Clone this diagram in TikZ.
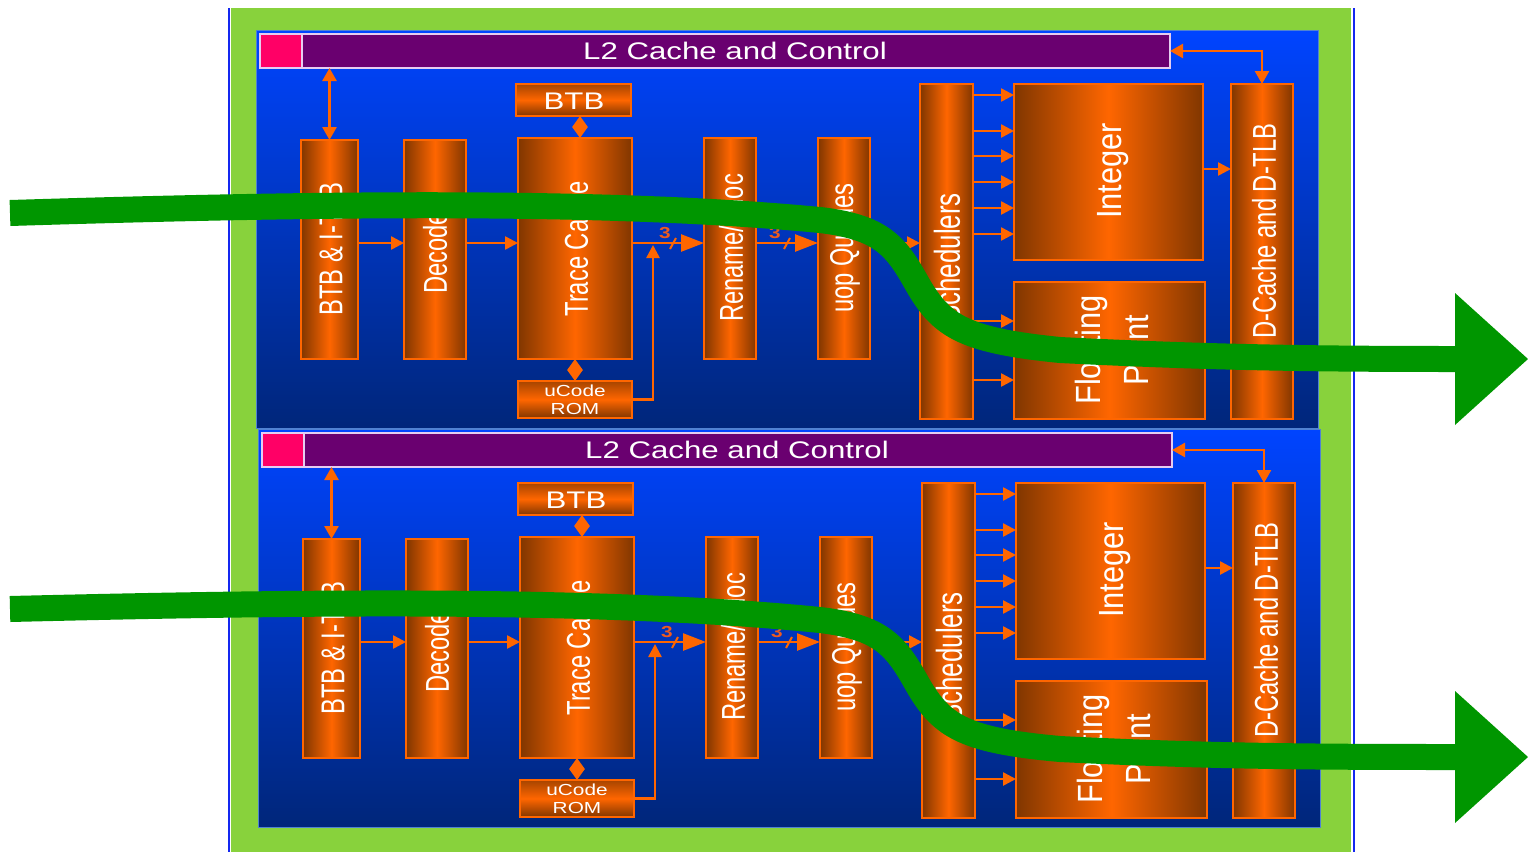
\documentclass[tikz,border=0pt]{standalone}
\usepackage{fontspec}
\setmainfont{Liberation Sans}
\newfontfamily\hf[FakeStretch=1.3]{Liberation Sans}
\newfontfamily\vf[FakeStretch=0.72]{Liberation Sans}
\newfontfamily\vbf[FakeStretch=0.88]{Liberation Sans}
\usetikzlibrary{arrows.meta}
\definecolor{bgg}{RGB}{136,210,60}
\definecolor{pblue}{RGB}{0,68,255}
\definecolor{dblue}{RGB}{0,38,122}
\definecolor{org}{RGB}{255,102,0}
\definecolor{brn}{RGB}{128,54,0}
\definecolor{purp}{RGB}{106,0,112}
\definecolor{pnk}{RGB}{255,0,102}
\definecolor{grn}{RGB}{0,150,0}
\definecolor{edgeblue}{RGB}{20,40,240}
\definecolor{lbord}{RGB}{80,130,210}
\definecolor{wbord}{RGB}{230,205,240}
\definecolor{numc}{RGB}{240,90,30}
\tikzset{
  panel/.style={draw=lbord, line width=1pt, top color=pblue, bottom color=dblue, inner sep=0pt, outer sep=0pt},
  vblk/.style={draw=org, line width=1.5pt, left color=brn, right color=brn, middle color=org, inner sep=0pt, outer sep=0pt, anchor=north west},
  hblk/.style={draw=org, line width=1.5pt, top color=brn!70!org, bottom color=brn, middle color=org, inner sep=0pt, outer sep=0pt, anchor=north west},
  vlab/.style={text=white, rotate=90, inner sep=0pt, font=\vf\fontsize{33}{36}\selectfont},
  vbig/.style={text=white, rotate=90, inner sep=0pt, align=center, font=\vbf\fontsize{35}{48}\selectfont},
  hlab/.style={text=white, inner sep=0pt, font=\hf\fontsize{24}{26}\selectfont},
  oar/.style={draw=org, line width=2.5pt},
  tipa/.style={-{Triangle[length=13pt,width=13pt]}},
  tipb/.style={-{Triangle[length=23pt,width=17pt]}},
  tipab/.style={{Triangle[length=13pt,width=14pt]}-{Triangle[length=13pt,width=14pt]}},
  tipd/.style={{Triangle[length=11pt,width=15pt]}-{Triangle[length=11pt,width=15pt]}},
  numlab/.style={text=numc, inner sep=0pt, font=\hf\fontsize{16}{16}\selectfont\bfseries},
  garrow/.style={draw=grn, line width=26pt, -{Triangle[length=73pt,width=132pt,line width=0pt]}}
}
\newcommand\cpupanel[1]{%
  \node[panel, anchor=north west, minimum width=1062pt, minimum height=398pt] (bg#1) at (256,30) {};
  \node[draw=wbord, line width=1.5pt, fill=purp, anchor=north west, minimum width=910pt, minimum height=34pt, inner sep=0pt, outer sep=0pt] (l2#1) at (260,34) {};
  \node[draw=wbord, line width=1.5pt, fill=pnk, anchor=north west, minimum width=42pt, minimum height=34pt, inner sep=0pt, outer sep=0pt] (pk#1) at (260,34) {};
  \node[hlab] (l2t#1) at (735,51) {L2 Cache and Control};
  % blocks
  \node[vblk, minimum width=57pt, minimum height=219pt] (itlb#1) at (301,140) {};
  \node[vblk, minimum width=62pt, minimum height=219pt] (dec#1) at (404,140) {};
  \node[vblk, minimum width=114pt, minimum height=221pt] (tc#1) at (518,138) {};
  \node[hblk, minimum width=115pt, minimum height=32pt] (btb#1) at (516,84) {};
  \node[hblk, minimum width=114pt, minimum height=37pt] (rom#1) at (518,381) {};
  \node[vblk, minimum width=52pt, minimum height=221pt] (ren#1) at (704,138) {};
  \node[vblk, minimum width=52pt, minimum height=221pt] (uop#1) at (818,138) {};
  \node[vblk, minimum width=53pt, minimum height=335pt] (sch#1) at (920,84) {};
  \node[vblk, minimum width=189pt, minimum height=176pt] (int#1) at (1014,84) {};
  \node[vblk, minimum width=191pt, minimum height=137pt] (fp#1) at (1014,282) {};
  \node[vblk, minimum width=62pt, minimum height=335pt] (dc#1) at (1231,84) {};
  % labels
  \node[vlab] (itlbt#1) at (331,249) {BTB \& I-TLB};
  \node[vlab] (dect#1) at (435,253) {Decode};
  \node[vlab] (tct#1) at (576,249) {Trace Cache};
  \node[hlab] (btbt#1) at (574,101) {BTB};
  \node[text=white, inner sep=0pt, align=center, font=\hf\fontsize{16}{18}\selectfont] (romt#1) at (575,400) {uCode\\ROM};
  \node[vlab] (rent#1) at (731,248) {Rename/Alloc};
  \node[vlab] (uopt#1) at (845,248) {uop Queues};
  \node[vlab, font=\vf\fontsize{36}{36}\selectfont] (scht#1) at (947,258) {Schedulers};
  \node[vbig] (intt#1) at (1113,171) {Integer};
  \node[vbig] (fpt#1) at (1112,350) {Floating\\Point};
  \node[vlab] (dct#1) at (1264,231) {D-Cache and D-TLB};
  % connectors
  \coordinate (r#1) at (0,243);
  \draw[oar, tipab] (itlb#1.north |- l2#1.south) -- (itlb#1.north);
  \draw[oar, tipa] (itlb#1.east |- r#1) -- (dec#1.west |- r#1);
  \draw[oar, tipa] (dec#1.east |- r#1) -- (tc#1.west |- r#1);
  \draw[oar, tipd] (btb#1.south -| 580,0) -- (tc#1.north -| 580,0);
  \draw[oar, tipd] (tc#1.south) -- (rom#1.north);
  \draw[oar, tipb] (tc#1.east |- r#1) -- (ren#1.west |- r#1);
  \coordinate (j#1) at (653,245);
  \draw[oar, tipa] (rom#1.east) -| (j#1);
  \draw[org, line width=2pt] (670,249) -- (676,238);
  \node[numlab] (n1#1) at (665,233) {3};
  \draw[oar, tipb] (ren#1.east |- r#1) -- (uop#1.west |- r#1);
  \draw[org, line width=2pt] (784,249) -- (790,238);
  \node[numlab] (n2#1) at (775,233) {3};
  \draw[oar, tipa] (uop#1.east |- r#1) -- (sch#1.west |- r#1);
  \foreach \yy in {95,131,156,182,208,234,321,380}
    \draw[oar, tipa] (sch#1.east |- 0,\yy) -- (int#1.west |- 0,\yy);
  \draw[oar, tipa] (int#1.east |- 0,169) -- (dc#1.west |- 0,169);
  \draw[oar, tipab] (l2#1.east) -| (dc#1.north);
}
\begin{document}
\begin{tikzpicture}[x=1pt,y=-1pt]
\useasboundingbox (0,0) rectangle (1528,852);
\fill[white] (0,0) rectangle (1528,852);
\fill[bgg] (231,8) rectangle (1351,852);
\draw[edgeblue, line width=2pt] (228.5,8) -- (228.5,852);
\draw[edgeblue, line width=2pt] (1353.5,8) -- (1353.5,852);
\begin{scope}
\cpupanel{a}
\end{scope}
\begin{scope}[shift={(2,399)}]
\cpupanel{b}
\end{scope}
% green flow arrows
\coordinate (g1s) at (10,213);
\coordinate (g1e) at (1528,359);
\coordinate (g2s) at (10,609);
\coordinate (g2e) at (1528,757);
\draw[garrow] (g1s) .. controls (300,204) and (600,199) .. (820,220)
  .. controls (880,227) and (895,245) .. (915,280)
  .. controls (940,325) and (960,340) .. (1060,350)
  .. controls (1200,357) and (1300,359) .. (1455,359) -- (g1e);
\draw[garrow] (g2s) .. controls (300,602) and (600,598) .. (820,620)
  .. controls (880,627) and (895,645) .. (915,680)
  .. controls (940,725) and (960,740) .. (1060,749)
  .. controls (1200,756) and (1300,757) .. (1455,757) -- (g2e);
\end{tikzpicture}
\end{document}
